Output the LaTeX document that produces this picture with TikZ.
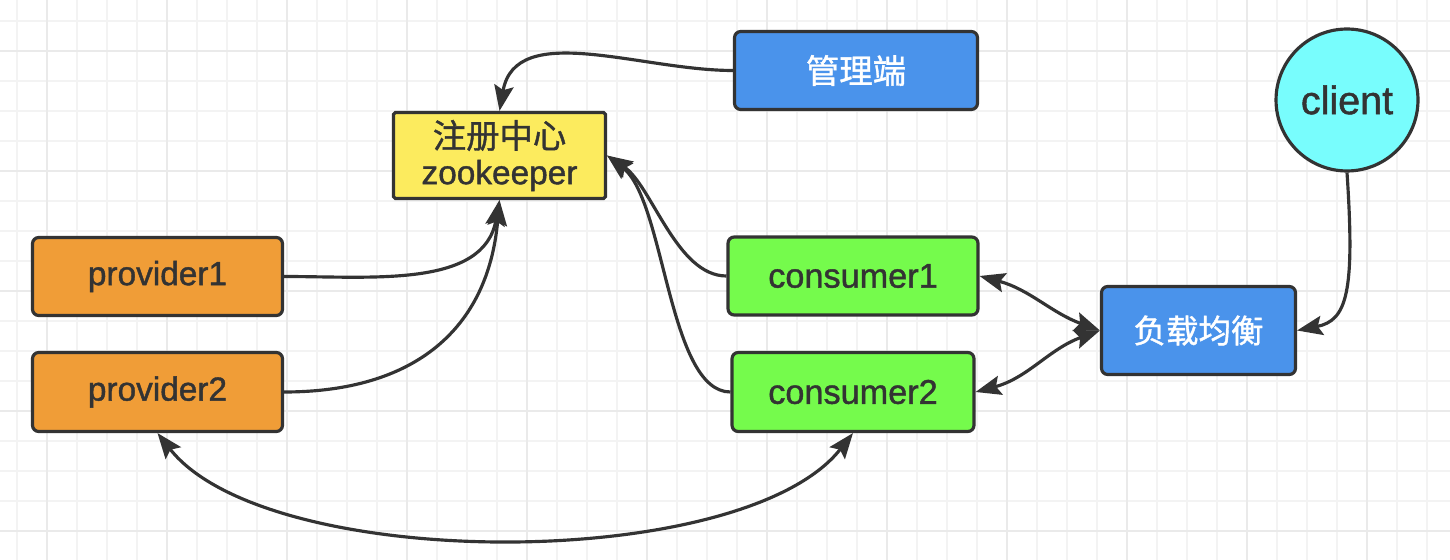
\documentclass[tikz,border=0pt]{standalone}
\usepackage{fontspec}
\setmainfont[FakeBold=1.2]{Liberation Sans}
\newfontfamily\cjk[FakeBold=1.2]{Noto Sans CJK SC}
\usepackage{tikz}
\usetikzlibrary{arrows.meta}

\definecolor{edge}{HTML}{333333}
\definecolor{gridminor}{HTML}{F3F3F3}
\definecolor{gridmajor}{HTML}{EAEAEA}
\definecolor{provfill}{HTML}{F09D37}
\definecolor{regfill}{HTML}{FCEB5E}
\definecolor{consfill}{HTML}{75FB4C}
\definecolor{bluefill}{HTML}{4A93EB}
\definecolor{clientfill}{HTML}{78FDFD}

\begin{document}
\begin{tikzpicture}
    [x=0.02cm, y=0.02cm, every node/.style={font=\fontsize{19}{21}\selectfont, text=edge},
    >={Stealth[length=14.5pt, width=11pt, inset=2.5pt]},
    box/.style={draw=edge, line width=1.8pt, rounded corners=3.5pt,
    minimum width=5cm, minimum height=1.56cm, inner sep=2pt},
    link/.style={draw=edge, line width=1.8pt, ->}
    ]

    \def\W{1450}
    \def\H{560}

    % Draw the grid
    \useasboundingbox (0,0) rectangle (\W,-\H);
    \fill[white] (0,0) rectangle (\W,-\H);
    \foreach \gx in {17,47,...,\W} \draw[gridminor, line width=1.1pt] (\gx,0) -- (\gx,-\H);
    \foreach \gy in {21,51,...,\H} \draw[gridminor, line width=1.1pt] (0,-\gy) -- (\W,-\gy);
    \foreach \gx in {47,167,...,\W} \draw[gridmajor, line width=1.3pt] (\gx,0) -- (\gx,-\H);
    \foreach \gy in {51,171,...,\H} \draw[gridmajor, line width=1.3pt] (0,-\gy) -- (\W,-\gy);

    % Draw the nodes
    \node[box, fill=bluefill, text=white, minimum width=4.86cm] (admin) at (856,-70.5) {\cjk 管理端};
    \node[box, fill=regfill, rounded corners=1pt, minimum width=4.24cm, minimum height=1.72cm,
      align=center, font=\fontsize{19}{20.5}\selectfont] (registry) at (499.5,-155.5) {{\cjk 注册中心}\\zookeeper};
    \node[draw=edge, line width=1.8pt, circle, fill=clientfill, minimum size=2.84cm,
      font=\fontsize{22.5}{25}\selectfont] (client) at (1347,-100) {client};
    \node[box, fill=provfill] (prov1) at (157.5,-276.5) {provider1};
    \node[box, fill=provfill, minimum height=1.58cm] (prov2) at (157.5,-392) {provider2};
    \node[box, fill=consfill, font=\fontsize{19.5}{21}\selectfont] (cons1) at (853,-276) {consumer1};
    \node[box, fill=consfill, minimum width=4.84cm, minimum height=1.58cm,
      font=\fontsize{19.5}{21}\selectfont] (cons2) at (853,-392) {consumer2};
    \node[box, fill=bluefill, text=white, minimum width=3.88cm, minimum height=1.76cm,
      font=\fontsize{18.5}{21}\selectfont] (balancer) at (1198.5,-330.5) {\cjk 负载均衡};

    % Draw the links to the registry
    \draw[link] (admin.west) to[out=180, in=80] (registry.north);
    \draw[link] (prov1.east) to[out=0, in=-100] (registry.south);
    \draw[link] (prov2.east) to[out=0, in=-95, looseness=1.15] (registry.south);
    \draw[link] (cons1.west) .. controls +(-50,0) and +(45,-30) .. (registry.east);
    \draw[link] (cons2.west) .. controls +(-62,0) and +(58,-45) .. (registry.east);

    % Draw the calls
    \draw[link, <->] (cons1.east) to[out=-15, in=160] (balancer.west);
    \draw[link, <->] (cons2.east) to[out=15, in=200] (balancer.west);
    \draw[link] (client.south) .. controls +(8,-120) and +(50,10) .. (balancer.east);
    \draw[link, <->] (prov2.south) .. controls +(110,-140) and +(-110,-140) .. (cons2.south);

  \end{tikzpicture}
\end{document}
